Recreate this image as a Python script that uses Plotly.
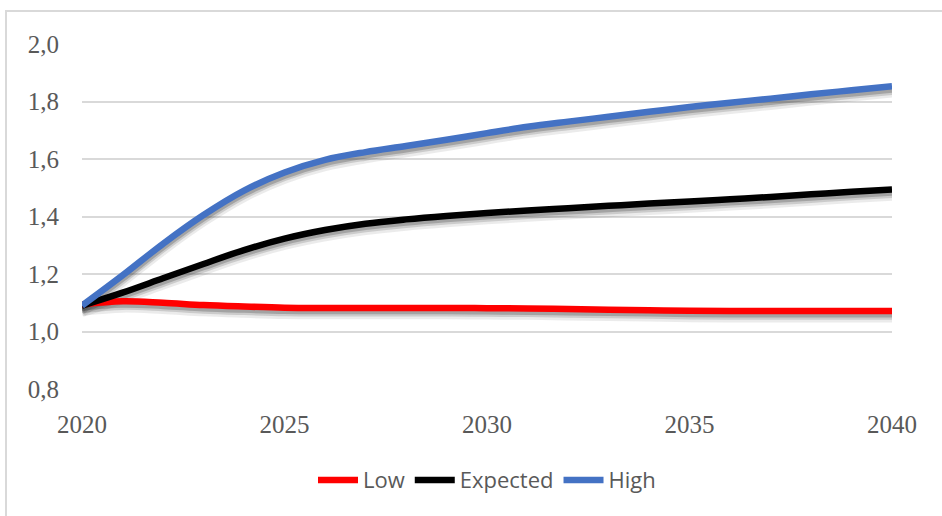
import plotly.graph_objects as go

years = list(range(2020, 2041))
low = [1.094, 1.105, 1.100, 1.092, 1.087, 1.083, 1.082, 1.082, 1.082, 1.082, 1.081,
       1.080, 1.078, 1.076, 1.074, 1.072, 1.071, 1.071, 1.071, 1.071, 1.071]
expected = [1.09, 1.135, 1.185, 1.235, 1.283, 1.323, 1.353, 1.375, 1.39, 1.402, 1.412,
            1.421, 1.429, 1.437, 1.445, 1.452, 1.46, 1.468, 1.477, 1.486, 1.494]
high = [1.09, 1.195, 1.305, 1.405, 1.49, 1.553, 1.597, 1.624, 1.645, 1.667, 1.69,
        1.712, 1.73, 1.747, 1.764, 1.781, 1.796, 1.81, 1.825, 1.839, 1.853]

series = [("Low", low, "#FF0000"), ("Expected", expected, "#000000"), ("High", high, "#4472C4")]

fig = go.Figure()
# soft shadows below each line
for name, vals, color in series:
    for off, op, w in [(0.022, 0.10, 10), (0.016, 0.18, 8), (0.010, 0.28, 7)]:
        fig.add_trace(go.Scatter(x=years, y=[v - off for v in vals], mode="lines",
                                 line=dict(color="rgba(60,60,60,%s)" % op, width=w, shape="spline"),
                                 showlegend=False, hoverinfo="skip"))
for name, vals, color in series:
    fig.add_trace(go.Scatter(x=years, y=vals, mode="lines", name=name,
                             line=dict(color=color, width=6.5, shape="spline")))

fig.update_layout(
    width=942, height=516,
    margin=dict(l=82, r=50, t=44, b=127),
    paper_bgcolor="white", plot_bgcolor="white",
    separators=", ",
    showlegend=True,
    legend=dict(orientation="h", x=0.5, xanchor="center", y=-0.264, yanchor="middle",
                font=dict(family="Open Sans, Liberation Sans", size=22, color="#595959"),
                itemwidth=40, tracegroupgap=0),
    xaxis=dict(range=[2020, 2040], tickvals=[2020, 2025, 2030, 2035, 2040],
               showgrid=False, zeroline=False, showline=False, ticks="",
               ticklabelstandoff=18,
               tickfont=dict(family="Liberation Serif", size=25, color="#595959")),
    yaxis=dict(range=[0.8, 2.0], dtick=0.2, tickformat=".1f",
               showgrid=True, gridcolor="#D9D9D9", gridwidth=1.5, zeroline=False,
               showline=False, ticks="", ticklabelstandoff=22,
               tickfont=dict(family="Liberation Serif", size=25, color="#595959")),
    shapes=[dict(type="rect", xref="paper", yref="paper",
                 x0=(6 - 82) / 810, x1=1.08, y0=-0.40, y1=1 + 33 / 345,
                 line=dict(color="#D9D9D9", width=2), fillcolor="rgba(0,0,0,0)", layer="below")],
)

fig.write_html("out.html", config={"displayModeBar": False},
               post_script="document.body.style.margin='0';")
